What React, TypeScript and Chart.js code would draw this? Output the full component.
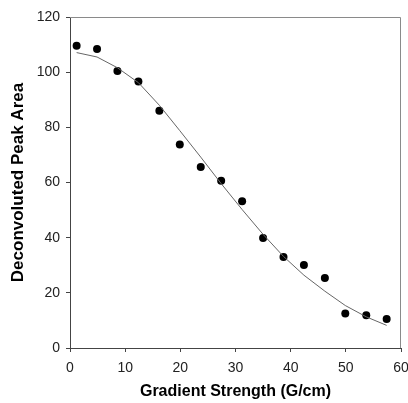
import React, { useEffect, useRef } from "react";
import { Chart, registerables } from "chart.js";

Chart.register(...registerables);

const gradientStrength = [1.2, 4.9, 8.6, 12.4, 16.2, 19.9, 23.7, 27.4, 31.2, 35.0, 38.7, 42.4, 46.2, 49.9, 53.7, 57.4];
const peakArea = [109.6, 108.4, 100.4, 96.6, 86.0, 73.8, 65.6, 60.6, 53.2, 39.9, 33.0, 30.1, 25.4, 12.5, 11.9, 10.5];
const fittedArea = [107.1, 105.5, 101.6, 96.2, 88.0, 78.8, 69.2, 59.6, 50.2, 41.2, 33.2, 26.4, 20.6, 15.4, 11.3, 8.2];
const xTicks = [0, 10, 20, 30, 40, 50, 60];
const yTicks = [0, 20, 40, 60, 80, 100, 120];

const frame = {
  id: "frame",
  afterDraw(chart: any) {
    const { ctx, chartArea } = chart;
    ctx.save();
    ctx.strokeStyle = "#8a8a8a";
    ctx.lineWidth = 1;
    ctx.beginPath();
    ctx.moveTo(chartArea.left, chartArea.top + 0.5);
    ctx.lineTo(chartArea.right - 0.5, chartArea.top + 0.5);
    ctx.lineTo(chartArea.right - 0.5, chartArea.bottom);
    ctx.stroke();
    ctx.restore();
  },
};

export default function App() {
  const ref = useRef<HTMLCanvasElement>(null);
  useEffect(() => {
    const canvas = ref.current;
    if (!canvas) return;
    const chart = new Chart(canvas, {
      type: "scatter",
      data: {
        datasets: [
          {
            label: "Fit",
            data: gradientStrength.map((x, i) => ({ x, y: fittedArea[i] })),
            showLine: true,
            borderColor: "#666666",
            borderWidth: 1,
            pointRadius: 0,
            fill: false,
            tension: 0,
          },
          {
            label: "Data",
            data: gradientStrength.map((x, i) => ({ x, y: peakArea[i] })),
            backgroundColor: "#000000",
            borderWidth: 0,
            pointRadius: 4,
          },
        ],
      },
      options: {
        responsive: false,
        animation: false,
        layout: { padding: { left: 0, top: 17, right: 7, bottom: 0 } },
        plugins: { legend: { display: false }, tooltip: { enabled: false } },
        scales: {
          x: {
            type: "linear",
            min: 0,
            max: 60,
            afterBuildTicks: (s: any) => {
              s.ticks = xTicks.map((v) => ({ value: v }));
            },
            afterFit: (s: any) => {
              s.height = 55;
              s.paddingLeft = 0;
              s.paddingRight = 0;
            },
            grid: { display: true, drawOnChartArea: false, drawTicks: true, tickLength: 4, color: "#444444" },
            border: { display: true, color: "#444444", width: 1 },
            ticks: { color: "#222222", font: { family: "Arial, 'Liberation Sans'", size: 14 }, padding: 8, maxRotation: 0 },
            title: {
              display: true,
              text: "Gradient Strength (G/cm)",
              color: "#000000",
              font: { family: "Arial, 'Liberation Sans'", size: 16, weight: "bold" },
              padding: { top: 0, bottom: 2 },
            },
          },
          y: {
            type: "linear",
            min: 0,
            max: 120,
            afterBuildTicks: (s: any) => {
              s.ticks = yTicks.map((v) => ({ value: v }));
            },
            afterFit: (s: any) => {
              s.width = 70;
              s.paddingTop = 0;
              s.paddingBottom = 0;
            },
            grid: { display: true, drawOnChartArea: false, drawTicks: true, tickLength: 4, color: "#444444" },
            border: { display: true, color: "#444444", width: 1 },
            ticks: { color: "#222222", font: { family: "Arial, 'Liberation Sans'", size: 14 }, padding: 6 },
            title: {
              display: true,
              text: "Deconvoluted Peak Area",
              color: "#000000",
              font: { family: "Arial, 'Liberation Sans'", size: 17, weight: "bold" },
              padding: { top: 8, bottom: 0 },
            },
          },
        },
      },
      plugins: [frame],
    } as any);
    return () => chart.destroy();
  }, []);
  return (
    <div style={{ position: "fixed", left: 0, top: 0, width: 408, height: 403, background: "#ffffff" }}>
      <canvas ref={ref} width={408} height={403} style={{ display: "block", width: 408, height: 403 }} />
    </div>
  );
}
